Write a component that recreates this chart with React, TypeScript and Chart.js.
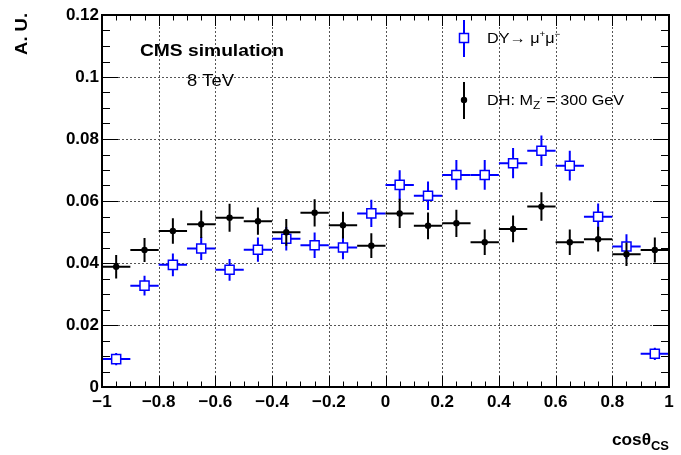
import React, { useEffect, useRef } from 'react';
import { Chart, registerables } from 'chart.js';
Chart.register(...registerables);

// ---- data ----
const binCenters = [-0.95, -0.85, -0.75, -0.65, -0.55, -0.45, -0.35, -0.25, -0.15, -0.05,
  0.05, 0.15, 0.25, 0.35, 0.45, 0.55, 0.65, 0.75, 0.85, 0.95];
const binHalfWidth = 0.05;
const dyValues = [0.0090, 0.0327, 0.0394, 0.0447, 0.0378, 0.0443, 0.0478, 0.0457, 0.0450, 0.0560,
  0.0652, 0.0617, 0.0684, 0.0684, 0.0722, 0.0762, 0.0714, 0.0549, 0.0453, 0.0107];
const dyErrors = [0.0020, 0.0032, 0.0037, 0.0037, 0.0035, 0.0039, 0.0038, 0.0041, 0.0038, 0.0044,
  0.0047, 0.0046, 0.0048, 0.0048, 0.0049, 0.0049, 0.0048, 0.0043, 0.0040, 0.0020];
const dhValues = [0.0388, 0.0442, 0.0503, 0.0525, 0.0546, 0.0535, 0.0499, 0.0562, 0.0522, 0.0456,
  0.0560, 0.0520, 0.0528, 0.0467, 0.0510, 0.0582, 0.0467, 0.0477, 0.0428, 0.0442];
const dhErrors = [0.0038, 0.0039, 0.0041, 0.0044, 0.0045, 0.0044, 0.0043, 0.0044, 0.0043, 0.0040,
  0.0047, 0.0043, 0.0044, 0.0041, 0.0043, 0.0046, 0.0041, 0.0040, 0.0038, 0.0040];
const xTickValues = [-1, -0.8, -0.6, -0.4, -0.2, 0, 0.2, 0.4, 0.6, 0.8, 1];
const xTickLabels = ['\u22121', '\u22120.8', '\u22120.6', '\u22120.4', '\u22120.2', '0', '0.2', '0.4', '0.6', '0.8', '1'];
const yTickValues = [0, 0.02, 0.04, 0.06, 0.08, 0.1, 0.12];
const yTickLabels = ['0', '0.02', '0.04', '0.06', '0.08', '0.1', '0.12'];
const xMinorStep = 0.05;
const yMinorStep = 0.005;

const FONT = '"Liberation Sans", Arial, Helvetica, sans-serif';
const BLUE = '#0000ff';
const SX = 1.15;

type Run = { t: string; size: number; bold?: boolean; dy?: number };
function drawRuns(ctx: CanvasRenderingContext2D, x: number, y: number, runs: Run[], sx: number, draw = true) {
  let cx = x;
  for (const r of runs) {
    ctx.font = `${r.bold ? 'bold ' : ''}${r.size}px ${FONT}`;
    const w = ctx.measureText(r.t).width * sx;
    if (draw) {
      ctx.save();
      ctx.translate(cx, y + (r.dy || 0));
      ctx.scale(sx, 1);
      ctx.fillText(r.t, 0, 0);
      ctx.restore();
    }
    cx += w;
  }
  return cx - x;
}

function drawErrorBars(chart: any, values: number[], errors: number[], color: string) {
  const { ctx, scales: { x, y } } = chart;
  ctx.save();
  ctx.strokeStyle = color;
  ctx.lineWidth = 2;
  ctx.setLineDash([]);
  binCenters.forEach((c, i) => {
    const px = x.getPixelForValue(c);
    const py = y.getPixelForValue(values[i]);
    const x0 = x.getPixelForValue(c - binHalfWidth);
    const x1 = x.getPixelForValue(c + binHalfWidth);
    const y0 = y.getPixelForValue(values[i] - errors[i]);
    const y1 = y.getPixelForValue(values[i] + errors[i]);
    ctx.beginPath();
    ctx.moveTo(x0, py); ctx.lineTo(x1, py);
    ctx.moveTo(px, y0); ctx.lineTo(px, y1);
    ctx.stroke();
  });
  ctx.restore();
}

const rootPlugin = {
  id: 'rootStyle',
  beforeDatasetsDraw(chart: any) {
    const { ctx, chartArea: { left, right, top, bottom }, scales: { x, y } } = chart;
    ctx.save();
    ctx.strokeStyle = '#555';
    ctx.lineWidth = 1;
    ctx.setLineDash([2, 2]);
    xTickValues.forEach((v) => {
      if (v <= -1 || v >= 1) return;
      const px = Math.round(x.getPixelForValue(v)) + 0.5;
      ctx.beginPath(); ctx.moveTo(px, top); ctx.lineTo(px, bottom); ctx.stroke();
    });
    yTickValues.forEach((v) => {
      if (v <= 0 || v >= 0.12) return;
      const py = Math.round(y.getPixelForValue(v)) + 0.5;
      ctx.beginPath(); ctx.moveTo(left, py); ctx.lineTo(right, py); ctx.stroke();
    });
    ctx.restore();
  },
  beforeDatasetDraw(chart: any, args: any) {
    const ds = chart.data.datasets[args.index];
    if (ds.label === 'DY') drawErrorBars(chart, dyValues, dyErrors, BLUE);
    else drawErrorBars(chart, dhValues, dhErrors, '#000');
  },
  afterDatasetsDraw(chart: any) {
    const { ctx, chartArea: { left, right, top, bottom }, scales: { x, y } } = chart;
    ctx.save();
    ctx.strokeStyle = '#000';
    ctx.lineWidth = 1;
    ctx.setLineDash([]);
    const nx = Math.round(2 / xMinorStep);
    for (let i = 0; i <= nx; i++) {
      const v = -1 + i * xMinorStep;
      const major = i % 4 === 0;
      const len = major ? 11 : 5.5;
      const px = Math.round(x.getPixelForValue(v)) + 0.5;
      ctx.beginPath();
      ctx.moveTo(px, bottom); ctx.lineTo(px, bottom - len);
      ctx.moveTo(px, top); ctx.lineTo(px, top + len);
      ctx.stroke();
    }
    const ny = Math.round(0.12 / yMinorStep);
    for (let i = 0; i <= ny; i++) {
      const v = i * yMinorStep;
      const major = i % 4 === 0;
      const len = major ? 16 : 8;
      const py = Math.round(y.getPixelForValue(v)) + 0.5;
      ctx.beginPath();
      ctx.moveTo(left, py); ctx.lineTo(left + len, py);
      ctx.moveTo(right, py); ctx.lineTo(right - len, py);
      ctx.stroke();
    }
    ctx.lineWidth = 2;
    ctx.strokeRect(left, top, right - left, bottom - top);
    ctx.restore();
  },
  afterDraw(chart: any) {
    const { ctx } = chart;
    ctx.save();
    ctx.fillStyle = '#000';
    ctx.textBaseline = 'alphabetic';
    ctx.textAlign = 'left';
    drawRuns(ctx, 140, 55.5, [{ t: 'CMS simulation', size: 17, bold: true }], 1.13);
    drawRuns(ctx, 187, 86, [{ t: '8 TeV', size: 16 }], 1.15);
    // legend markers
    ctx.lineWidth = 2;
    ctx.strokeStyle = BLUE;
    ctx.beginPath(); ctx.moveTo(464, 20); ctx.lineTo(464, 57); ctx.stroke();
    ctx.fillStyle = '#fff';
    ctx.lineWidth = 1.5;
    ctx.fillRect(459.5, 33.5, 9, 9);
    ctx.strokeRect(459.5, 33.5, 9, 9);
    ctx.strokeStyle = '#000';
    ctx.lineWidth = 2;
    ctx.beginPath(); ctx.moveTo(464, 82); ctx.lineTo(464, 119); ctx.stroke();
    ctx.fillStyle = '#000';
    ctx.beginPath(); ctx.arc(464, 100, 3.2, 0, Math.PI * 2); ctx.fill();
    // legend texts
    drawRuns(ctx, 487, 43, [
      { t: 'DY\u2192 \u03bc', size: 15 },
      { t: '+', size: 9, dy: -6 },
      { t: '\u03bc', size: 15 },
      { t: '\u2212', size: 9, dy: -6 },
    ], 1.08);
    drawRuns(ctx, 487, 105, [
      { t: 'DH: M', size: 15 },
      { t: 'Z', size: 11, dy: 4 },
      { t: '\u2032', size: 8, dy: -3 },
      { t: ' = 300 GeV', size: 15 },
    ], 1.08);
    // y title (rotated)
    ctx.save();
    ctx.translate(27, 13);
    ctx.rotate(-Math.PI / 2);
    const yTitle: Run[] = [{ t: 'A. U.', size: 16, bold: true }];
    const wy = drawRuns(ctx, 0, 0, yTitle, SX, false);
    drawRuns(ctx, -wy, 0, yTitle, SX);
    ctx.restore();
    // x title
    const xTitle: Run[] = [
      { t: 'cos\u03b8', size: 16, bold: true },
      { t: 'CS', size: 12, bold: true, dy: 5 },
    ];
    const wx = drawRuns(ctx, 0, 0, xTitle, 1.08, false);
    drawRuns(ctx, 669 - wx, 445, xTitle, 1.08);
    ctx.restore();
  },
};

export default function App() {
  const ref = useRef<HTMLCanvasElement>(null);
  useEffect(() => {
    const tickFont = { family: FONT, weight: 'bold' as const, size: 17 };
    const chart = new Chart(ref.current!, {
      type: 'scatter',
      data: {
        datasets: [
          {
            label: 'DH',
            data: binCenters.map((c, i) => ({ x: c, y: dhValues[i] })),
            pointStyle: 'circle',
            pointRadius: 3.2,
            backgroundColor: '#000',
            borderColor: '#000',
            borderWidth: 0,
          },
          {
            label: 'DY',
            data: binCenters.map((c, i) => ({ x: c, y: dyValues[i] })),
            pointStyle: 'rect',
            pointRadius: 6.4,
            backgroundColor: '#fff',
            borderColor: BLUE,
            borderWidth: 1.5,
          },
        ],
      },
      options: {
        responsive: false,
        animation: false,
        devicePixelRatio: 1,
        events: [],
        layout: { padding: { top: 15, right: 12, left: 0, bottom: 0 } },
        plugins: { legend: { display: false }, tooltip: { enabled: false } },
        scales: {
          x: {
            type: 'linear',
            min: -1,
            max: 1,
            grid: { display: false, drawTicks: false },
            border: { display: false },
            afterBuildTicks: (s: any) => { s.ticks = xTickValues.map((v) => ({ value: v })); },
            afterFit: (s: any) => { s.height = 68; s.paddingLeft = 0; s.paddingRight = 0; },
            ticks: {
              font: tickFont,
              color: '#000',
              padding: 5,
              maxRotation: 0,
              autoSkip: false,
              callback: (_v: any, i: number) => xTickLabels[i],
            },
          },
          y: {
            type: 'linear',
            min: 0,
            max: 0.12,
            grid: { display: false, drawTicks: false },
            border: { display: false },
            afterBuildTicks: (s: any) => { s.ticks = yTickValues.map((v) => ({ value: v })); },
            afterFit: (s: any) => { s.width = 102; s.paddingTop = 0; s.paddingBottom = 0; },
            ticks: {
              font: tickFont,
              color: '#000',
              padding: 3,
              autoSkip: false,
              callback: (_v: any, i: number) => yTickLabels[i],
            },
          },
        },
      },
      plugins: [rootPlugin],
    } as any);
    return () => chart.destroy();
  }, []);
  return (
    <div style={{ position: 'fixed', left: 0, top: 0, width: 681, height: 455, background: '#fff' }}>
      <canvas ref={ref} width={681} height={455} style={{ display: 'block' }} />
    </div>
  );
}
